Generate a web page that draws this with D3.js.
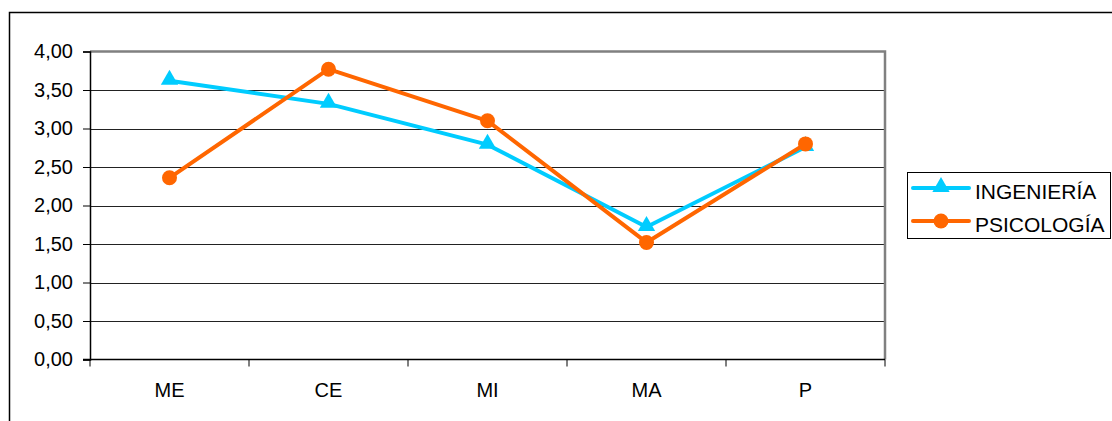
<!DOCTYPE html>
<html>
<head>
<meta charset="utf-8">
<script src="https://cdn.jsdelivr.net/npm/d3@7"></script>
<style>
  html, body { margin: 0; padding: 0; background: #fff; }
  svg { display: block; font-family: "Liberation Sans", Arial, sans-serif; }
</style>
</head>
<body>
<svg id="chart" width="1112" height="421"></svg>
<script>
// Category labels along the x axis
const categories = ["ME", "CE", "MI", "MA", "P"];
// Series values
const ingenieria = [3.62, 3.32, 2.79, 1.72, 2.76];
const psicologia = [2.36, 3.77, 3.10, 1.52, 2.80];
// Y tick values
const yTicks = [0, 0.5, 1, 1.5, 2, 2.5, 3, 3.5, 4];

const series = [
  { name: "INGENIERÍA", values: ingenieria, color: "#00CCFF", marker: "triangle" },
  { name: "PSICOLOGÍA", values: psicologia, color: "#FF6600", marker: "circle" }
];

const svg = d3.select("#chart");
const plot = { left: 90, right: 885, top: 51.5, bottom: 359.5 };

// Outer frame
svg.append("rect")
  .attr("x", 9.5).attr("y", 12.5)
  .attr("width", 1112).attr("height", 420)
  .attr("fill", "none").attr("stroke", "#000").attr("stroke-width", 1.5);

const x = d3.scaleBand().domain(categories).range([plot.left, plot.right]).padding(0);
const y = d3.scaleLinear().domain([0, 4]).range([plot.bottom, plot.top]);

const fmt = v => d3.format(".2f")(v).replace(".", ",");

// Horizontal gridlines
svg.append("g").selectAll("line")
  .data(yTicks.filter(t => t > 0 && t < 4))
  .join("line")
  .attr("x1", plot.left).attr("x2", plot.right)
  .attr("y1", d => Math.round(y(d)) + 0.5).attr("y2", d => Math.round(y(d)) + 0.5)
  .attr("stroke", "#222").attr("stroke-width", 1);

// Top and right plot border
svg.append("path")
  .attr("d", `M${plot.left},${plot.top} H${plot.right} V${plot.bottom}`)
  .attr("fill", "none").attr("stroke", "#808080").attr("stroke-width", 2.5);

// Y axis
const yAxis = d3.axisLeft(y).tickValues(yTicks).tickFormat(fmt).tickSize(7).tickPadding(10);
const gy = svg.append("g").attr("transform", `translate(${plot.left},0)`).call(yAxis);
gy.select(".domain").attr("stroke", "#000").attr("stroke-width", 1.5);
gy.selectAll(".tick line").attr("stroke", "#000");
gy.selectAll("text").attr("font-size", 20).attr("fill", "#000")
  .attr("font-family", "Liberation Sans, Arial, sans-serif");

// X axis: ticks at category boundaries, labels centred
const gx = svg.append("g").attr("transform", `translate(0,${plot.bottom})`);
gx.append("line").attr("x1", plot.left - 7).attr("x2", plot.right)
  .attr("y1", 0).attr("y2", 0).attr("stroke", "#000").attr("stroke-width", 1.5);
const bounds = categories.map(c => x(c)).concat([x(categories[categories.length - 1]) + x.bandwidth()]);
gx.selectAll("line.tk").data(bounds).join("line").attr("class", "tk")
  .attr("x1", d => d).attr("x2", d => d).attr("y1", 0).attr("y2", 7)
  .attr("stroke", "#000").attr("stroke-width", 1);
gx.selectAll("text").data(categories).join("text")
  .attr("x", d => x(d) + x.bandwidth() / 2).attr("y", 37.5)
  .attr("text-anchor", "middle").attr("font-size", 20).attr("fill", "#000")
  .text(d => d);

const cx = c => x(c) + x.bandwidth() / 2;
const line = d3.line().x((d, i) => cx(categories[i])).y(d => y(d));
const tri = d3.symbol().type(d3.symbolTriangle).size(130);

function drawMarker(g, type, color) {
  if (type === "triangle") {
    g.append("path").attr("d", tri()).attr("fill", color).attr("transform", "translate(0,-1)");
  } else {
    g.append("circle").attr("r", 7.5).attr("fill", color);
  }
}

series.forEach(s => {
  svg.append("path").datum(s.values)
    .attr("d", line).attr("fill", "none")
    .attr("stroke", s.color).attr("stroke-width", 4).attr("stroke-linejoin", "round");
  s.values.forEach((v, i) => {
    const g = svg.append("g").attr("transform", `translate(${cx(categories[i])},${y(v)})`);
    drawMarker(g, s.marker, s.color);
  });
});

// Legend
const lg = svg.append("g");
lg.append("rect").attr("x", 907.5).attr("y", 172.5).attr("width", 203).attr("height", 66)
  .attr("fill", "#fff").attr("stroke", "#000").attr("stroke-width", 1);
series.forEach((s, i) => {
  const yy = 188 + i * 33;
  lg.append("line").attr("x1", 913).attr("x2", 969).attr("y1", yy).attr("y2", yy)
    .attr("stroke", s.color).attr("stroke-width", 4).attr("stroke-linecap", "round");
  const g = lg.append("g").attr("transform", `translate(941,${yy})`);
  drawMarker(g, s.marker, s.color);
  lg.append("text").attr("x", 975).attr("y", yy + 11).attr("font-size", 21).attr("fill", "#000")
    .text(s.name);
});
</script>
</body>
</html>
